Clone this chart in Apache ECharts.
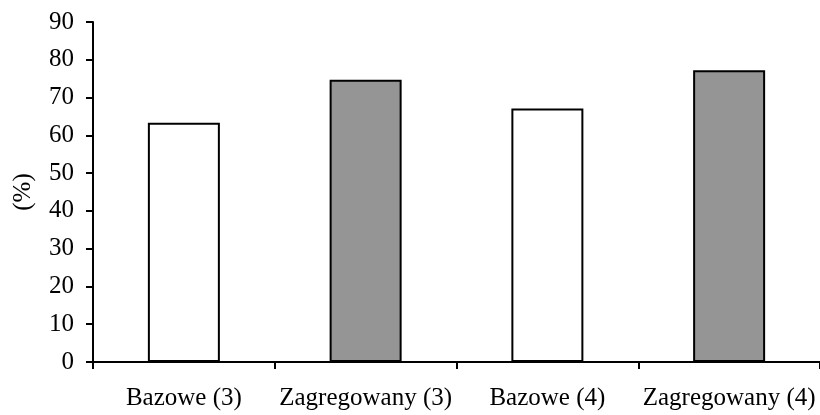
<!DOCTYPE html>
<html><head><meta charset="utf-8">
<script src="https://cdn.jsdelivr.net/npm/echarts@6/dist/echarts.min.js"></script>
<style>html,body{margin:0;padding:0;background:#fff}#c{width:820px;height:415px}</style>
</head><body><div id="c"></div>
<script>
const categories = ['Bazowe (3)', 'Zagregowany (3)', 'Bazowe (4)', 'Zagregowany (4)'];
const values = [63.3, 74.7, 67.1, 77.2];
const fills = ['#ffffff', '#959595', '#ffffff', '#959595'];
const yTicks = [0, 90, 10];

const chart = echarts.init(document.getElementById('c'), null, {renderer: 'canvas'});
const font = 'Liberation Serif';
chart.setOption({
  animation: false,
  backgroundColor: '#ffffff',
  grid: {left: 93, right: -5, top: 22, bottom: 53, containLabel: false},
  xAxis: {
    type: 'category',
    data: categories,
    axisLine: {lineStyle: {color: '#000', width: 2}},
    axisTick: {show: true, interval: 0, length: 7, lineStyle: {color: '#000', width: 2}},
    axisLabel: {interval: 0, hideOverlap: false, color: '#000', fontFamily: font, fontSize: 25, margin: 24}
  },
  yAxis: {
    type: 'value',
    min: yTicks[0], max: yTicks[1], interval: yTicks[2],
    name: '(%)',
    nameLocation: 'middle',
    nameGap: 57,
    nameRotate: 90,
    nameTextStyle: {color: '#000', fontFamily: font, fontSize: 25},
    splitLine: {show: false},
    axisLine: {show: true, lineStyle: {color: '#000', width: 2}},
    axisTick: {show: true, length: 7, lineStyle: {color: '#000', width: 2}},
    axisLabel: {color: '#000', fontFamily: font, fontSize: 25, margin: 19}
  },
  series: [{
    type: 'bar',
    barWidth: 72,
    data: values.map((v, i) => ({value: v, itemStyle: {color: fills[i]}})),
    itemStyle: {borderColor: '#000', borderWidth: 2}
  }]
});
</script></body></html>
